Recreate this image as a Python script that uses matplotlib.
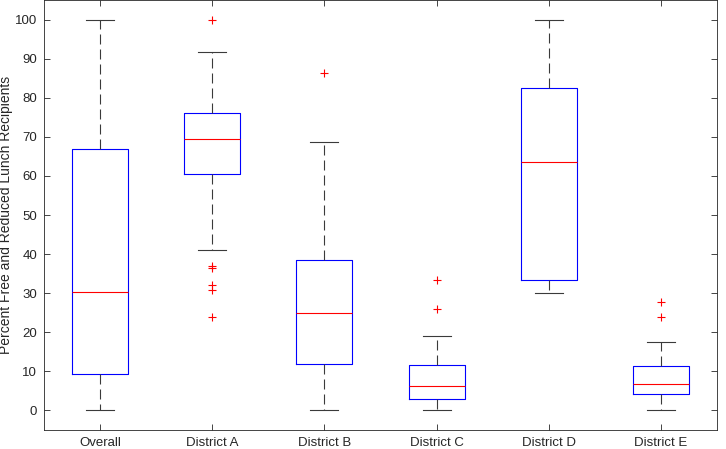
import matplotlib
matplotlib.use("Agg")
import matplotlib.pyplot as plt

categories = ["Overall", "District A", "District B", "District C", "District D", "District E"]
whisker_low = [0.0, 41.0, 0.0, 0.0, 30.0, 0.0]
q1 = [9.2, 60.6, 11.8, 3.0, 33.3, 4.2]
median = [30.2, 69.4, 25.0, 6.2, 63.6, 6.8]
q3 = [67.0, 76.0, 38.4, 11.7, 82.6, 11.3]
whisker_high = [100.0, 91.7, 68.8, 19.0, 100.0, 17.6]
outliers = [
    [],
    [100.0, 36.9, 36.5, 32.0, 30.8, 24.0],
    [86.4],
    [33.3, 26.0],
    [],
    [27.8, 24.0],
]
yticks = list(range(0, 101, 10))

plt.rcParams['font.family'] = ['Liberation Sans', 'DejaVu Sans']

fig = plt.figure(figsize=(7.26, 4.49), dpi=100)
ax = fig.add_axes([44/726, 19/449, 673/726, 430/449])

stats = []
for i, c in enumerate(categories):
    stats.append(dict(label=c, whislo=whisker_low[i], q1=q1[i], med=median[i],
                      q3=q3[i], whishi=whisker_high[i], fliers=outliers[i]))

gray = '#3a3a3a'
ax.bxp(stats, positions=range(1, len(categories) + 1), widths=0.5, capwidths=0.25,
       boxprops=dict(color='#0000ff', linewidth=0.8),
       medianprops=dict(color='#ff0000', linewidth=0.8),
       whiskerprops=dict(color=gray, linewidth=0.8, linestyle=(0, (9, 4.5))),
       capprops=dict(color=gray, linewidth=0.8),
       flierprops=dict(marker='+', markeredgecolor='#ff0000', markersize=6, markeredgewidth=0.8,
                       linestyle='none'))

ax.set_xlim(0.5, 6.5)
ax.set_ylim(-5, 105)
ax.set_yticks(yticks)
ax.set_xticks(range(1, len(categories) + 1))
ax.set_xticklabels(categories)
ax.set_ylabel("Percent Free and Reduced Lunch Recipients", fontsize=10, color='#262626')
ax.yaxis.set_label_coords(-31/673, 0.5)
ax.tick_params(direction='in', top=True, right=True, length=4, width=0.6, colors='#262626',
               labelsize=9.5, pad=5)
for s in ax.spines.values():
    s.set_color('#262626')
    s.set_linewidth(0.6)

fig.savefig("out.png", dpi=100)
